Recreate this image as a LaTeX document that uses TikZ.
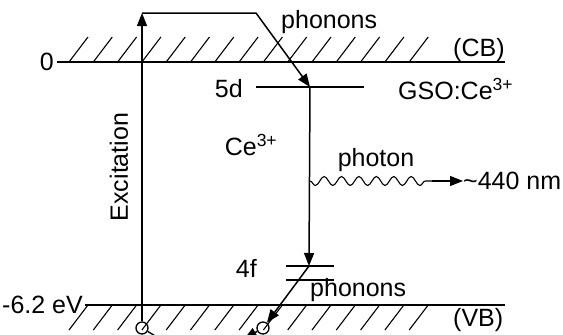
\documentclass[tikz,border=0pt]{standalone}
\usepackage{fontspec}
\setmainfont{Liberation Sans}
\usetikzlibrary{arrows.meta, positioning, calc, decorations.pathmorphing}

\begin{document}
\begin{tikzpicture}[
  x=1pt, y=-1pt,
  every node/.style={font=\fontsize{25}{29}\selectfont, inner sep=0pt},
  level/.style={line width=1.3pt},
  hatch/.style={line width=1.1pt},
  arrow/.style={-{Triangle[length=13pt, width=10pt]}, line width=1.5pt},
  wave/.style={decorate, decoration={snake, amplitude=4.5pt, segment length=17.4pt, mirror}, line width=1.1pt},
  hole/.style={draw, circle, line width=1.3pt, minimum size=12pt}
]
  \useasboundingbox (0,0) rectangle (563,335);
  \clip (0,0) rectangle (563,335);

  % Bande: CB in alto, VB in basso
  \coordinate (cbL) at (57,62);
  \coordinate (cbR) at (505,62);
  \coordinate (vbL) at (85,305);
  \coordinate (vbR) at (505,305);
  \draw[level] (cbL) -- (cbR);
  \draw[level] (vbL) -- (vbR);
  \foreach \i in {0,...,14} {
    \draw[hatch] (69+\i*24.3,62) -- ++(19,-25);
    \draw[hatch] (69+\i*24.3,330) -- ++(19,-25);
  }

  % Livelli del Ce
  \coordinate (d5L) at (256,87);
  \coordinate (d5) at (310,87);
  \coordinate (d5R) at (364,87);
  \coordinate (f4L) at (286,266);
  \coordinate (f4) at (309,266);
  \coordinate (f4R) at (334,266);
  \coordinate (f4bL) at (286,280);
  \coordinate (f4bR) at (334,280);
  \draw[level] (d5L) -- (d5R);
  \draw[level] (f4L) -- (f4R);
  \draw[level] (f4bL) -- (f4bR);

  % Etichette
  \node[left=3pt of cbL] (zero) {0};
  \node[left=2pt of vbL] (vbval) {-6.2 eV};
  \node[anchor=west] (cb) at (453,50) {(CB)};
  \node[anchor=west] (vb) at (453,320) {(VB)};
  \node[anchor=east] (lab5d) at (243,89) {5d};
  \node[anchor=east] (lab4f) at (257,268) {4f};
  \node[anchor=west] (gso) at (398,89) {GSO:Ce\textsuperscript{3+}};
  \node (ce) at (251,145) {Ce\textsuperscript{3+}};
  \node[rotate=90] (exc) at (119,167) {Excitation};
  \node[anchor=west] (phon1) at (281,22) {phonons};
  \node[anchor=west] (phon2) at (310,290) {phonons};
  \node (photon) at (376,160) {photon};
  \node[anchor=west] (nm) at (463,181) {\textasciitilde440 nm};

  % Lacune
  \node[hole] (hole1) at (142,328) {};
  \node[hole] (hole2) at (263,328) {};

  % Eccitazione e rilassamento
  \coordinate (exctop) at (142,13);
  \coordinate (bend) at (256,13);
  \draw[arrow] (hole1) -- (exctop);
  \draw[arrow] (exctop) -- (bend) -- (d5);
  \draw[arrow] (d5) -- (f4);
  \draw[arrow] (f4) -- (hole2);

  % Fotone emesso
  \coordinate (wstart) at (310,181);
  \coordinate (wend) at (432,181);
  \draw[wave] (wstart) -- (wend);
  \draw[arrow, line width=1.1pt] (wend) -- (nm.west);

  % Tratti tagliati dal bordo
  \coordinate (cut1) at (172,346);
  \coordinate (cut2) at (244,339);
  \draw[level] (hole1) -- (cut1);
  \draw[arrow] (hole2) -- (cut2);
\end{tikzpicture}
\end{document}
